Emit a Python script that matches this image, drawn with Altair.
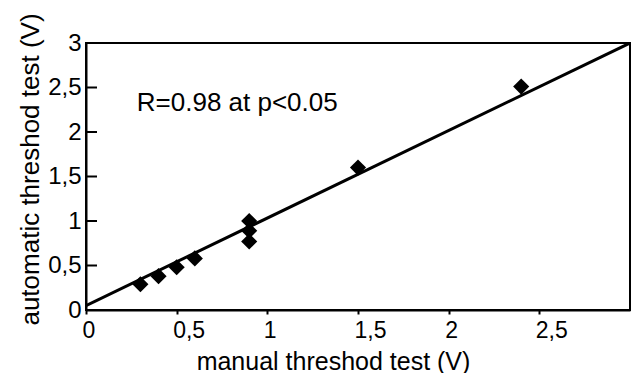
import altair as alt
import pandas as pd

# Data
manual = [0.30, 0.40, 0.50, 0.60, 0.90, 0.90, 0.90, 1.50, 2.40]
automatic = [0.29, 0.38, 0.48, 0.58, 1.00, 0.89, 0.77, 1.60, 2.51]
fit_x = [0.0, 3.0]
fit_y = [0.05, 3.0]
x_ticks = [0, 0.5, 1, 1.5, 2, 2.5]
y_ticks = [0, 0.5, 1, 1.5, 2, 2.5, 3]
inner_y_ticks = [0.5, 1, 1.5, 2, 2.5]
annotation = "R=0.98 at p<0.05"
ann_x = [0.28]
ann_y = [2.24]

FONT = "Liberation Sans"

pts = pd.DataFrame({"manual": manual, "automatic": automatic})
fit = pd.DataFrame({"manual": fit_x, "automatic": fit_y})
ticks_df = pd.DataFrame({"v": inner_y_ticks})
ann_df = pd.DataFrame({"manual": ann_x, "automatic": ann_y, "t": [annotation]})

label_expr = "replace(toString(datum.value), '.', ',')"

xscale = alt.Scale(domain=[0, 3], nice=False, zero=False)
yscale = alt.Scale(domain=[0, 3], nice=False, zero=False)

xenc = alt.X(
    "manual:Q",
    scale=xscale,
    axis=alt.Axis(
        title="manual threshod test (V)",
        values=x_ticks,
        labelExpr=label_expr,
        grid=False,
        tickSize=4,
        tickWidth=2,
        tickColor="black",
        domainColor="black",
        domainWidth=2,
        labelFont=FONT,
        labelFontSize=23,
        labelColor="black",
        labelAlign="left",
        labelOffset=-4,
        labelPadding=5,
        titleFont=FONT,
        titleFontSize=25,
        titleFontWeight="normal",
        titleColor="black",
        titleX=247,
        titleY=59,
        titleAlign="center",
        titleBaseline="alphabetic",
    ),
)

yenc = alt.Y(
    "automatic:Q",
    scale=yscale,
    axis=alt.Axis(
        title="automatic threshod test (V)",
        values=y_ticks,
        labelExpr=label_expr,
        grid=False,
        ticks=False,
        domainColor="black",
        domainWidth=2,
        labelFont=FONT,
        labelFontSize=24,
        labelColor="black",
        labelPadding=5,
        titleFont=FONT,
        titleFontSize=26,
        titleFontWeight="normal",
        titleColor="black",
        titleAngle=-90,
        titleX=-48,
        titleY=126,
        titleAlign="center",
        titleBaseline="alphabetic",
    ),
)

points = alt.Chart(pts).mark_point(
    shape="diamond", filled=True, color="black", size=260, opacity=1
).encode(x=xenc, y=yenc)

line = alt.Chart(fit).mark_line(color="black", strokeWidth=3, clip=True).encode(
    x=alt.X("manual:Q", scale=xscale),
    y=alt.Y("automatic:Q", scale=yscale),
)

yticks = alt.Chart(ticks_df).mark_rule(color="black", strokeWidth=2).encode(
    y=alt.Y("v:Q", scale=yscale),
    x=alt.value(0),
    x2=alt.value(11),
)

text = alt.Chart(ann_df).mark_text(
    align="left", baseline="alphabetic", font=FONT, fontSize=26, color="black"
).encode(
    x=alt.X("manual:Q", scale=xscale),
    y=alt.Y("automatic:Q", scale=yscale),
    text="t:N",
)

chart = (
    alt.layer(line, points, yticks, text)
    .properties(
        width=544,
        height=267,
        autosize=alt.AutoSizeParams(type="none"),
        padding={"left": 78, "top": 35, "right": 1, "bottom": 63},
        background="white",
    )
    .configure_view(stroke="black", strokeWidth=2)
)

chart.save("out.html", embed_options={"renderer": "svg", "actions": False})
